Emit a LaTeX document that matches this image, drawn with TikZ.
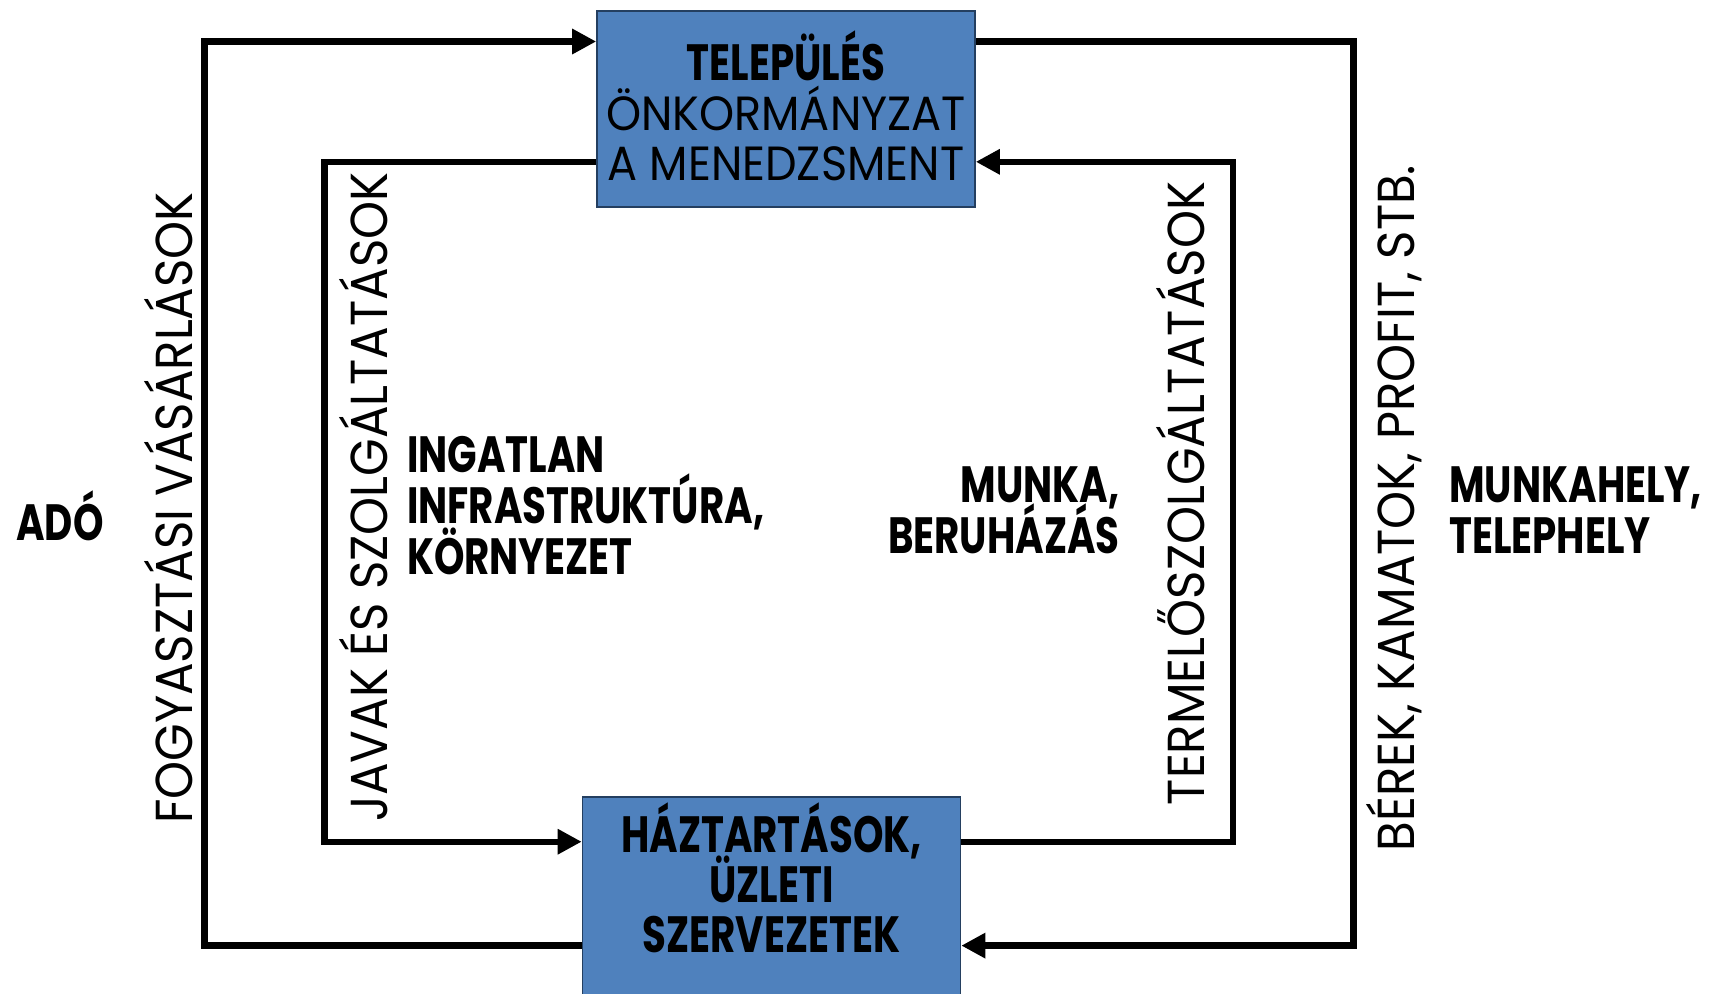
\documentclass[tikz,border=0pt]{standalone}
\usepackage{fontspec}
\setmainfont{Poppins}[FakeStretch=0.93]
\newfontfamily\bcond{Poppins}[FakeStretch=0.76]
\usetikzlibrary{arrows.meta}
\setlength{\lineskiplimit}{-20pt}
\definecolor{boxblue}{HTML}{4F81BD}
\definecolor{boxedge}{HTML}{243F60}
\tikzset{
  x=0.5pt, y=-0.5pt,
  flowbox/.style={draw=boxedge, line width=0.8pt, fill=boxblue, minimum width=189pt, inner sep=0pt, align=center},
  flow/.style={line width=3.2pt, -{Triangle[length=12pt,width=12pt]}},
  vlabel/.style={rotate=90, font=\fontsize{26}{30}\selectfont, inner sep=0pt},
  rlabel/.style={font=\fontsize{24}{25}\selectfont, inner sep=0pt},
  blabel/.style={font=\bcond\bfseries\fontsize{25.5}{25.5}\selectfont, inner sep=0pt},
}
\begin{document}
\begin{tikzpicture}
\useasboundingbox (0,0) rectangle (1714,993);
\node[flowbox, minimum height=98pt] (top) at (786,109) {};
\node[flowbox, minimum height=101.5pt] (bot) at (771.5,898.5) {};
% box texts
\node[rlabel, align=center] (ttxt) at (786,106) {{\bcond\bfseries\fontsize{25.5}{25}\selectfont TELEPÜLÉS}\\ÖNKORMÁNYZAT\\A MENEDZSMENT};
\node[blabel, align=center, font=\bcond\bfseries\fontsize{25.5}{25}\selectfont] (btxt) at (771.5,878) {HÁZTARTÁSOK,\\ÜZLETI\\SZERVEZETEK};
% corner coordinates
\coordinate (yA) at (0,41.5);
\coordinate (yB) at (0,161.8);
\coordinate (yC) at (0,841.7);
\coordinate (yD) at (0,945.6);
\coordinate (c1) at (204.4,945.6);
\coordinate (c2) at (204.4,41.5);
\coordinate (c3) at (324.6,161.8);
\coordinate (c4) at (324.6,841.7);
\coordinate (c5) at (1233,841.7);
\coordinate (c6) at (1233,161.8);
\coordinate (c7) at (1353.3,41.5);
\coordinate (c8) at (1353.3,945.6);
% connectors
\draw[flow] (bot.west |- yD) -- (c1) -- (c2) -- (top.west |- yA);
\draw[flow] (top.west |- yB) -- (c3) -- (c4) -- (bot.west |- yC);
\draw[flow] (bot.east |- yC) -- (c5) -- (c6) -- (top.east |- yB);
\draw[flow] (top.east |- yA) -- (c7) -- (c8) -- (bot.east |- yD);
% vertical labels
\node[vlabel] (v1) at (169,508) {FOGYASZTÁSI VÁSÁRLÁSOK};
\node[vlabel] (v2) at (364,497) {JAVAK ÉS SZOLGÁLTATÁSOK};
\node[vlabel] (v3) at (1180.5,493.5) {TERMELŐSZOLGÁLTATÁSOK};
\node[vlabel] (v4) at (1393.7,508) {BÉREK, KAMATOK, PROFIT, STB.};
% bold labels
\node[blabel] (ado) at (60,516) {ADÓ};
\node[blabel, anchor=west, align=left] (ing) at (406.6,506) {INGATLAN\\INFRASTRUKTÚRA,\\KÖRNYEZET};
\node[blabel, anchor=east, align=right] (mun) at (1120,510) {MUNKA,\\BERUHÁZÁS};
\node[blabel, anchor=west, align=left] (mh) at (1449,510) {MUNKAHELY,\\TELEPHELY};
\end{tikzpicture}
\end{document}
